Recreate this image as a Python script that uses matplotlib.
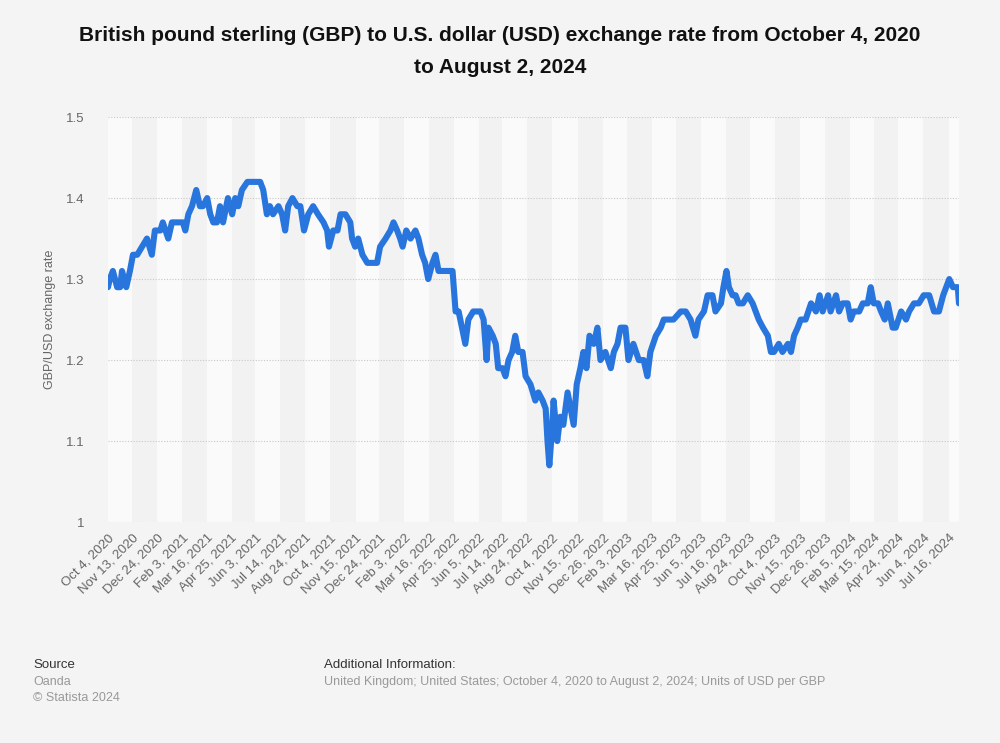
import matplotlib
matplotlib.use('Agg')
import matplotlib.pyplot as plt
import pandas as pd

# GBP/USD values (Oanda, Oct 2020 - Aug 2024)
obs_dates = [
	'2020-10-04', '2020-10-07', '2020-10-12', '2020-10-19', '2020-10-24', '2020-10-27',
	'2020-11-03', '2020-11-09', '2020-11-14', '2020-11-21', '2020-11-29', '2020-12-07',
	'2020-12-15', '2020-12-20', '2020-12-29', '2021-01-02', '2021-01-11', '2021-01-17',
	'2021-01-25', '2021-02-04', '2021-02-08', '2021-02-13', '2021-02-19', '2021-02-26',
	'2021-03-04', '2021-03-09', '2021-03-16', '2021-03-21', '2021-03-26', '2021-04-01',
	'2021-04-06', '2021-04-11', '2021-04-19', '2021-04-26', '2021-05-01', '2021-05-06',
	'2021-05-12', '2021-05-21', '2021-05-30', '2021-06-11', '2021-06-16', '2021-06-22',
	'2021-06-27', '2021-07-02', '2021-07-11', '2021-07-17', '2021-07-22', '2021-07-27',
	'2021-08-03', '2021-08-11', '2021-08-16', '2021-08-22', '2021-08-29', '2021-09-06',
	'2021-09-14', '2021-09-23', '2021-09-29', '2021-10-02', '2021-10-09', '2021-10-16',
	'2021-10-21', '2021-10-29', '2021-11-06', '2021-11-09', '2021-11-14', '2021-11-19',
	'2021-11-26', '2021-12-04', '2021-12-12', '2021-12-20', '2021-12-25', '2022-01-03',
	'2022-01-11', '2022-01-16', '2022-01-22', '2022-01-27', '2022-01-31', '2022-02-06',
	'2022-02-13', '2022-02-21', '2022-02-26', '2022-03-04', '2022-03-09', '2022-03-14',
	'2022-03-21', '2022-03-26', '2022-03-31', '2022-04-08', '2022-04-16', '2022-04-23',
	'2022-04-28', '2022-05-03', '2022-05-14', '2022-05-19', '2022-05-27', '2022-06-08',
	'2022-06-13', '2022-06-18', '2022-06-21', '2022-06-28', '2022-07-03', '2022-07-07',
	'2022-07-14', '2022-07-19', '2022-07-24', '2022-07-30', '2022-08-04', '2022-08-09',
	'2022-08-16', '2022-08-21', '2022-08-29', '2022-09-06', '2022-09-11', '2022-09-18',
	'2022-09-23', '2022-09-26', '2022-09-29', '2022-10-04', '2022-10-06', '2022-10-12',
	'2022-10-17', '2022-10-22', '2022-10-29', '2022-11-03', '2022-11-08', '2022-11-13',
	'2022-11-19', '2022-11-24', '2022-11-29', '2022-12-04', '2022-12-11', '2022-12-17',
	'2022-12-22', '2022-12-30', '2023-01-08', '2023-01-13', '2023-01-19', '2023-01-24',
	'2023-02-01', '2023-02-06', '2023-02-14', '2023-02-23', '2023-03-03', '2023-03-09',
	'2023-03-14', '2023-03-23', '2023-03-31', '2023-04-05', '2023-04-13', '2023-04-21',
	'2023-05-03', '2023-05-11', '2023-05-19', '2023-05-27', '2023-06-01', '2023-06-10',
	'2023-06-16', '2023-06-24', '2023-06-29', '2023-07-08', '2023-07-12', '2023-07-17',
	'2023-07-21', '2023-07-27', '2023-08-01', '2023-08-06', '2023-08-13', '2023-08-21',
	'2023-08-29', '2023-09-03', '2023-09-08', '2023-09-15', '2023-09-23', '2023-09-28',
	'2023-10-03', '2023-10-11', '2023-10-17', '2023-10-26', '2023-10-31', '2023-11-05',
	'2023-11-11', '2023-11-16', '2023-11-24', '2023-12-03', '2023-12-11', '2023-12-17',
	'2023-12-22', '2023-12-31', '2024-01-04', '2024-01-13', '2024-01-18', '2024-01-24',
	'2024-02-01', '2024-02-06', '2024-02-11', '2024-02-20', '2024-02-26', '2024-03-05',
	'2024-03-10', '2024-03-15', '2024-03-22', '2024-03-27', '2024-04-02', '2024-04-07',
	'2024-04-15', '2024-04-20', '2024-04-29', '2024-05-07', '2024-05-12', '2024-05-20',
	'2024-05-28', '2024-06-05', '2024-06-14', '2024-06-22', '2024-06-30', '2024-07-07',
	'2024-07-12', '2024-07-17', '2024-07-23', '2024-07-31', '2024-08-02',
]

gbp_usd = [
	1.29, 1.30, 1.31, 1.29, 1.29, 1.31,
	1.29, 1.31, 1.33, 1.33, 1.34, 1.35,
	1.33, 1.36, 1.36, 1.37, 1.35, 1.37,
	1.37, 1.37, 1.36, 1.38, 1.39, 1.41,
	1.39, 1.39, 1.40, 1.38, 1.37, 1.37,
	1.39, 1.37, 1.40, 1.38, 1.40, 1.39,
	1.41, 1.42, 1.42, 1.42, 1.41, 1.38,
	1.39, 1.38, 1.39, 1.38, 1.36, 1.39,
	1.40, 1.39, 1.39, 1.36, 1.38, 1.39,
	1.38, 1.37, 1.36, 1.34, 1.36, 1.36,
	1.38, 1.38, 1.37, 1.35, 1.34, 1.35,
	1.33, 1.32, 1.32, 1.32, 1.34, 1.35,
	1.36, 1.37, 1.36, 1.35, 1.34, 1.36,
	1.35, 1.36, 1.35, 1.33, 1.32, 1.30,
	1.32, 1.33, 1.31, 1.31, 1.31, 1.31,
	1.26, 1.26, 1.22, 1.25, 1.26, 1.26,
	1.25, 1.20, 1.24, 1.23, 1.22, 1.19,
	1.19, 1.18, 1.20, 1.21, 1.23, 1.21,
	1.21, 1.18, 1.17, 1.15, 1.16, 1.15,
	1.14, 1.10, 1.07, 1.12, 1.15, 1.10,
	1.13, 1.12, 1.16, 1.14, 1.12, 1.17,
	1.19, 1.21, 1.19, 1.23, 1.22, 1.24,
	1.20, 1.21, 1.19, 1.21, 1.22, 1.24,
	1.24, 1.20, 1.22, 1.20, 1.20, 1.18,
	1.21, 1.23, 1.24, 1.25, 1.25, 1.25,
	1.26, 1.26, 1.25, 1.23, 1.25, 1.26,
	1.28, 1.28, 1.26, 1.27, 1.29, 1.31,
	1.29, 1.28, 1.28, 1.27, 1.27, 1.28,
	1.27, 1.26, 1.25, 1.24, 1.23, 1.21,
	1.21, 1.22, 1.21, 1.22, 1.21, 1.23,
	1.24, 1.25, 1.25, 1.27, 1.26, 1.28,
	1.26, 1.28, 1.26, 1.28, 1.26, 1.27,
	1.27, 1.25, 1.26, 1.26, 1.27, 1.27,
	1.29, 1.27, 1.27, 1.26, 1.25, 1.27,
	1.24, 1.24, 1.26, 1.25, 1.26, 1.27,
	1.27, 1.28, 1.28, 1.26, 1.26, 1.28,
	1.29, 1.30, 1.29, 1.29, 1.27,
]

tick_labels = [
	'Oct 4, 2020', 'Nov 13, 2020', 'Dec 24, 2020', 'Feb 3, 2021', 'Mar 16, 2021',
	'Apr 25, 2021', 'Jun 3, 2021', 'Jul 14, 2021', 'Aug 24, 2021', 'Oct 4, 2021',
	'Nov 15, 2021', 'Dec 24, 2021', 'Feb 3, 2022', 'Mar 16, 2022', 'Apr 25, 2022',
	'Jun 5, 2022', 'Jul 14, 2022', 'Aug 24, 2022', 'Oct 4, 2022', 'Nov 15, 2022',
	'Dec 26, 2022', 'Feb 3, 2023', 'Mar 16, 2023', 'Apr 25, 2023', 'Jun 5, 2023',
	'Jul 16, 2023', 'Aug 24, 2023', 'Oct 4, 2023', 'Nov 15, 2023', 'Dec 26, 2023',
	'Feb 5, 2024', 'Mar 15, 2024', 'Apr 24, 2024', 'Jun 4, 2024', 'Jul 16, 2024',
]
y_ticks = [1.0, 1.1, 1.2, 1.3, 1.4, 1.5]
y_tick_labels = ['1', '1.1', '1.2', '1.3', '1.4', '1.5']

LINE_COLOR = '#2876dd'
FONT = ['Liberation Sans', 'DejaVu Sans']


def draw_bands(ax, edges, end):
	# alternating column shading between the category labels
	bounds = list(edges) + [end]
	for i in range(len(bounds) - 1):
		color = '#fafafa' if i % 2 == 0 else '#f2f2f2'
		ax.axvspan(bounds[i], bounds[i + 1], color=color, lw=0, zorder=0)


if __name__ == "__main__":
	plt.rcParams['font.family'] = FONT

	dates = pd.to_datetime(obs_dates)
	tick_pos = pd.to_datetime(tick_labels, format='%b %d, %Y')

	fig = plt.figure(figsize=(10, 7.43), dpi=100, facecolor='#f4f4f4')
	ax = fig.add_axes([0.108, 0.2974, 0.851, 0.545])
	ax.set_facecolor('#f4f4f4')

	draw_bands(ax, tick_pos, dates[-1])
	for y in y_ticks:
		ax.axhline(y, color='#c8c8c8', lw=0.8, ls=(0, (1, 1.5)), zorder=1)

	ax.plot(dates, gbp_usd, color=LINE_COLOR, lw=4.4, solid_joinstyle='round',
		solid_capstyle='round', zorder=3)

	ax.set_xlim(dates[0], dates[-1])
	ax.set_ylim(1.0, 1.5)
	ax.set_yticks(y_ticks)
	ax.set_yticklabels(y_tick_labels)
	ax.set_xticks(tick_pos)
	ax.set_xticklabels(tick_labels, rotation=45, ha='right', rotation_mode='anchor')
	ax.tick_params(axis='x', length=0, pad=7, labelsize=9.5, labelcolor='#666666')
	ax.tick_params(axis='y', length=0, pad=17, labelsize=9.5, labelcolor='#666666')
	for spine in ax.spines.values():
		spine.set_visible(False)
	ax.set_ylabel('GBP/USD exchange rate', fontsize=9, color='#666666', labelpad=7)

	fig.text(0.5, 0.931, 'British pound sterling (GBP) to U.S. dollar (USD) exchange rate from October 4, 2020\nto August 2, 2024',
		ha='center', va='center', fontsize=15, fontweight='bold', color='#111111',
		linespacing=1.9)

	fig.text(0.033, 0.105, 'Source', fontsize=9.5, color='#333333', va='center')
	fig.text(0.033, 0.082, 'Oanda', fontsize=9, color='#999999', va='center')
	fig.text(0.033, 0.0605, '\u00a9 Statista 2024', fontsize=9, color='#999999', va='center')
	fig.text(0.324, 0.105, 'Additional Information:', fontsize=9.5, color='#333333', va='center')
	fig.text(0.324, 0.082, 'United Kingdom; United States; October 4, 2020 to August 2, 2024; Units of USD per GBP',
		fontsize=9, color='#999999', va='center')

	fig.savefig('out.png', dpi=100, facecolor=fig.get_facecolor())
